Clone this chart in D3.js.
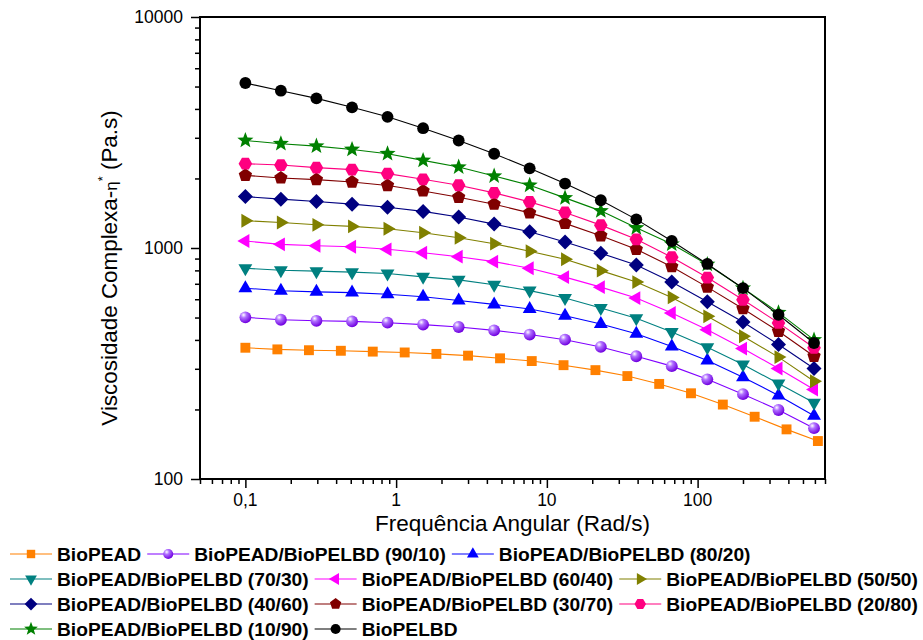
<!DOCTYPE html>
<html>
<head>
<meta charset="utf-8">
<script src="https://cdn.jsdelivr.net/npm/d3@7"></script>
<style>
  body { margin: 0; background: #fff; }
  svg { font-family: Arial, "Liberation Sans", sans-serif; }
</style>
</head>
<body>
<div id="chart"></div>
<script>
// frequencies (rad/s)
const freqPEAD = [0.1, 0.163, 0.264, 0.43, 0.7, 1.14, 1.85, 3.0, 4.89, 7.94, 12.9, 21.0, 34.2, 55.6, 90.4, 147, 239, 389, 628];
const freqBlend = [0.1, 0.172, 0.296, 0.51, 0.877, 1.51, 2.6, 4.47, 7.69, 13.2, 22.8, 39.2, 67.4, 116, 200, 344, 592];

// complex viscosity (Pa.s)
const bioPEAD = [370, 364, 361, 359, 356, 353, 348, 342, 333, 324, 311, 296, 279, 258, 235, 210, 186, 164, 146];
const b9010 = [501, 489, 484, 481, 475, 466, 455, 440, 422, 401, 373, 340, 308, 270, 233, 199, 166];
const b8020 = [670, 653, 646, 641, 631, 615, 593, 570, 544, 509, 469, 425, 375, 326, 276, 230, 188];
const b7030 = [817, 801, 794, 786, 775, 750, 728, 693, 654, 607, 550, 496, 433, 372, 313, 259, 214];
const b6040 = [1072, 1037, 1023, 1013, 987, 954, 917, 873, 817, 748, 677, 607, 523, 443, 367, 301, 244];
const b5050 = [1312, 1290, 1260, 1240, 1211, 1164, 1108, 1044, 968, 894, 798, 712, 611, 506, 415, 337, 265];
const b4060 = [1670, 1627, 1590, 1548, 1502, 1440, 1361, 1269, 1175, 1062, 949, 845, 712, 585, 478, 382, 301];
const b3070 = [2063, 2010, 1977, 1931, 1864, 1766, 1659, 1548, 1419, 1278, 1130, 987, 830, 677, 546, 436, 340];
const b2080 = [2317, 2286, 2228, 2185, 2099, 1984, 1869, 1732, 1584, 1425, 1256, 1090, 912, 745, 597, 474, 370];
const b1090 = [2921, 2827, 2761, 2671, 2559, 2395, 2241, 2049, 1869, 1648, 1448, 1223, 1040, 849, 670, 525, 400];
const bioPELBD = [5178, 4797, 4444, 4064, 3697, 3301, 2921, 2559, 2213, 1901, 1610, 1330, 1072, 853, 670, 514, 388];

const series = [
  { name: "BioPEAD", x: freqPEAD, y: bioPEAD, color: "#FF8000", marker: "square" },
  { name: "BioPEAD/BioPELBD (90/10)", x: freqBlend, y: b9010, color: "#8000FF", marker: "sphere" },
  { name: "BioPEAD/BioPELBD (80/20)", x: freqBlend, y: b8020, color: "#0000FF", marker: "up" },
  { name: "BioPEAD/BioPELBD (70/30)", x: freqBlend, y: b7030, color: "#008080", marker: "down" },
  { name: "BioPEAD/BioPELBD (60/40)", x: freqBlend, y: b6040, color: "#FF00FF", marker: "left" },
  { name: "BioPEAD/BioPELBD (50/50)", x: freqBlend, y: b5050, color: "#808000", marker: "right" },
  { name: "BioPEAD/BioPELBD (40/60)", x: freqBlend, y: b4060, color: "#000080", marker: "diamond" },
  { name: "BioPEAD/BioPELBD (30/70)", x: freqBlend, y: b3070, color: "#800000", marker: "pentagon" },
  { name: "BioPEAD/BioPELBD (20/80)", x: freqBlend, y: b2080, color: "#FF0080", marker: "hexagon" },
  { name: "BioPEAD/BioPELBD (10/90)", x: freqBlend, y: b1090, color: "#008000", marker: "star" },
  { name: "BioPELBD", x: freqBlend, y: bioPELBD, color: "#000000", marker: "circle" }
];

const legendRows = [[0, 1, 2], [3, 4, 5], [6, 7, 8], [9, 10]];
const xTicks = [0.1, 1, 10, 100];
const yTicks = [100, 1000, 10000];

const W = 923, H = 640;
const margin = { top: 17, right: 98, bottom: 161, left: 200 };

const svg = d3.select("#chart").append("svg")
  .attr("width", W).attr("height", H);

const x = d3.scaleLog().domain([0.05, 700]).range([margin.left, W - margin.right]);
const y = d3.scaleLog().domain([100, 10000]).range([H - margin.bottom, margin.top]);

// sphere gradient
const grad = svg.append("defs").append("radialGradient")
  .attr("id", "sphere").attr("cx", "35%").attr("cy", "30%").attr("r", "70%");
grad.append("stop").attr("offset", "0%").attr("stop-color", "#fff");
grad.append("stop").attr("offset", "35%").attr("stop-color", "#b070ff");
grad.append("stop").attr("offset", "100%").attr("stop-color", "#7000e0");

function polygon(n, r, rot) {
  const pts = d3.range(n).map(i => {
    const a = rot + i * 2 * Math.PI / n;
    return [r * Math.cos(a), r * Math.sin(a)];
  });
  return "M" + pts.map(p => p.join(",")).join("L") + "Z";
}
function star(r) {
  const pts = d3.range(10).map(i => {
    const a = -Math.PI / 2 + i * Math.PI / 5;
    const rr = i % 2 ? r * 0.42 : r;
    return [rr * Math.cos(a), rr * Math.sin(a)];
  });
  return "M" + pts.map(p => p.join(",")).join("L") + "Z";
}
function markerPath(m, s) {
  s = s || 1;
  switch (m) {
    case "square": return polygon(4, 7 * s, Math.PI / 4);
    case "up": return polygon(3, 8 * s, -Math.PI / 2);
    case "down": return polygon(3, 8 * s, Math.PI / 2);
    case "left": return polygon(3, 8 * s, Math.PI);
    case "right": return polygon(3, 8 * s, 0);
    case "diamond": return polygon(4, 7.5 * s, 0);
    case "pentagon": return polygon(5, 7 * s, -Math.PI / 2);
    case "hexagon": return polygon(6, 6.8 * s, 0);
    case "star": return star(8.5 * s);
    default: return d3.symbol(d3.symbolCircle, 110 * s * s)();
  }
}

// axes
const xAxis = d3.axisBottom(x)
  .tickValues(x.ticks().filter(v => v >= 0.05 && v <= 700))
  .tickSize(5).tickFormat("");
const yAxis = d3.axisLeft(y).tickSize(5).tickFormat("");

const gx = svg.append("g").attr("transform", `translate(0,${H - margin.bottom})`).call(xAxis);
const gy = svg.append("g").attr("transform", `translate(${margin.left},0)`).call(yAxis);
[gx, gy].forEach(g => {
  g.select(".domain").remove();
  g.selectAll("line").attr("stroke", "#000").attr("stroke-width", 1.5);
});
gx.selectAll(".tick").filter(d => xTicks.includes(d)).select("line").attr("y2", 9);
gy.selectAll(".tick").filter(d => yTicks.includes(d)).select("line").attr("x2", -9);

// frame
svg.append("rect")
  .attr("x", margin.left).attr("y", margin.top)
  .attr("width", W - margin.right - margin.left)
  .attr("height", H - margin.bottom - margin.top)
  .attr("fill", "none").attr("stroke", "#000").attr("stroke-width", 2);

// tick labels
svg.append("g").selectAll("text").data(xTicks).join("text")
  .attr("x", d => x(d)).attr("y", H - margin.bottom + 27)
  .attr("text-anchor", "middle").attr("font-size", 17.5)
  .text(d => d < 1 ? String(d).replace(".", ",") : d);
svg.append("g").selectAll("text").data(yTicks).join("text")
  .attr("x", margin.left - 17).attr("y", d => y(d)).attr("dy", "0.35em")
  .attr("text-anchor", "end").attr("font-size", 17.5)
  .text(d => d);

// axis titles
svg.append("text")
  .attr("x", (x(0.05) + x(700)) / 2).attr("y", 531)
  .attr("text-anchor", "middle").attr("font-size", 22.5)
  .text("Frequência Angular (Rad/s)");
const yt = svg.append("text")
  .attr("transform", "translate(117,268) rotate(-90)")
  .attr("text-anchor", "middle").attr("font-size", 22.4);
yt.append("tspan").text("Viscosidade Complexa-");
yt.append("tspan").attr("font-size", 17).text("η");
yt.append("tspan").attr("font-size", 13).attr("dy", -10).text("*");
yt.append("tspan").attr("dy", 10).text("  (Pa.s)");

// series
const line = d3.line().x(d => x(d[0])).y(d => y(d[1]));
series.forEach(s => {
  const pts = s.x.map((f, i) => [f, s.y[i]]);
  const g = svg.append("g");
  g.append("path").datum(pts).attr("d", line)
    .attr("fill", "none").attr("stroke", s.color).attr("stroke-width", 1.1);
  g.selectAll("path.m").data(pts).join("path").attr("class", "m")
    .attr("transform", d => `translate(${x(d[0])},${y(d[1])})`)
    .attr("d", markerPath(s.marker))
    .attr("fill", s.marker === "sphere" ? "url(#sphere)" : s.color);
});

// legend
const legend = svg.append("g");
legendRows.forEach((row, r) => {
  const cy = 554 + r * 25;
  let cx = 10;
  row.forEach(i => {
    const s = series[i];
    legend.append("line").attr("x1", cx).attr("x2", cx + 42)
      .attr("y1", cy).attr("y2", cy).attr("stroke", s.color).attr("stroke-width", 1.1);
    legend.append("path").attr("transform", `translate(${cx + 21},${cy})`)
      .attr("d", markerPath(s.marker, 0.85))
      .attr("fill", s.marker === "sphere" ? "url(#sphere)" : s.color);
    const t = legend.append("text").attr("x", cx + 47).attr("y", cy + 6.5)
      .attr("font-size", 19.2).attr("font-weight", "bold").text(s.name);
    cx += 47 + t.node().getComputedTextLength() + 6;
  });
});
</script>
</body>
</html>
